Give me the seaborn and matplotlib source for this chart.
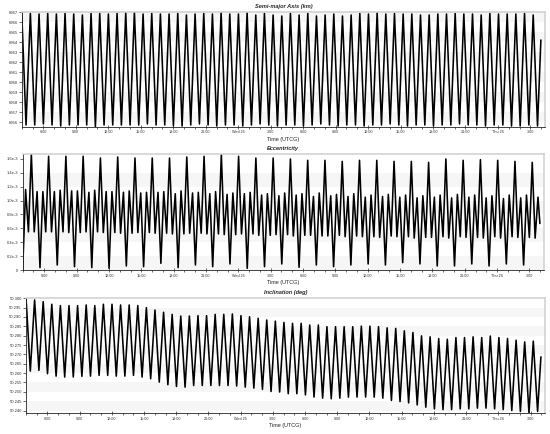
# -*- coding: utf-8 -*-
"""
Orbit elements over two days: semi-major axis, eccentricity, inclination
"""
import numpy as np
import pandas as pd
import matplotlib
matplotlib.use("Agg")
import matplotlib.pyplot as plt
import matplotlib.dates as mdates
from matplotlib.ticker import MultipleLocator, FuncFormatter
import seaborn as sns

# ===================== data =====================
start_time = pd.Timestamp("2020-03-24 04:00")
half_step_min = 24.03      # spacing of semi-major axis / inclination extrema
ecc_step_min = 16.02       # spacing of eccentricity extrema
end_hours = 47.97

# semi-major axis, km: alternating peaks / troughs, starting with a peak
sma_peaks = [6967.07, 6966.90, 6966.84, 6966.90, 6966.84, 6966.90, 6966.84, 6966.74, 6966.90, 6966.90,
             6966.84, 6966.90, 6966.97, 6967.07, 6966.84, 6966.90, 6966.84, 6966.84, 6966.90, 6966.74,
             6966.84, 6966.90, 6966.84, 6966.97, 6966.84, 6966.84, 6966.97, 6966.74, 6966.90, 6966.74,
             6966.64, 6966.90, 6966.74, 6966.90, 6966.64, 6966.74, 6966.84, 6966.64, 6966.74, 6966.90,
             6966.84, 6966.97, 6966.84, 6966.90, 6966.84, 6966.84, 6966.74, 6966.74, 6966.84, 6966.84,
             6966.90, 6966.84, 6966.84, 6966.74, 6966.90, 6966.84, 6966.84, 6966.84, 6966.90, 6966.74]
sma_troughs = [6955.74, 6955.74, 6955.84, 6955.74, 6955.64, 6955.74, 6955.74, 6955.74, 6955.57, 6955.74,
               6955.74, 6955.74, 6955.74, 6955.74, 6955.84, 6955.74, 6955.74, 6955.64, 6955.64, 6955.74,
               6955.84, 6955.74, 6955.64, 6955.74, 6955.74, 6955.64, 6955.74, 6955.84, 6955.74, 6955.64,
               6955.74, 6955.74, 6955.64, 6955.74, 6955.84, 6955.74, 6955.64, 6955.74, 6955.74, 6955.64,
               6955.74, 6955.74, 6955.84, 6955.74, 6955.64, 6955.74, 6955.74, 6955.64, 6955.74, 6955.74,
               6955.84, 6955.74, 6955.74, 6955.64, 6955.74, 6955.74, 6955.64, 6955.64, 6955.74, 6955.64]
sma_end = 6964.24

# eccentricity (x1e-3), six extrema per orbit: deep, mid, low, big, low, mid
ecc_deep = [0.000, 0.034, 0.072, 0.048, 0.034, 0.024, 0.058, 0.048, 0.096, 0.034,
            0.072, 0.048, 0.087, 0.024, 0.048, 0.087, 0.039, 0.072, 0.048, 0.072,
            0.087, 0.072, 0.106, 0.087, 0.058, 0.058, 0.087, 0.058, 0.087, 0.072]
ecc_mid_up = [1.16, 1.13, 1.15, 1.14, 1.15, 1.13, 1.14, 1.12, 1.13, 1.14,
              1.12, 1.13, 1.11, 1.12, 1.10, 1.11, 1.10, 1.11, 1.09, 1.10,
              1.08, 1.09, 1.08, 1.07, 1.08, 1.09, 1.08, 1.07, 1.08, 1.08]
ecc_low_up = [0.55, 0.55, 0.55, 0.54, 0.55, 0.54, 0.53, 0.54, 0.53, 0.52,
              0.53, 0.52, 0.51, 0.52, 0.50, 0.51, 0.50, 0.49, 0.50, 0.49,
              0.48, 0.49, 0.48, 0.47, 0.48, 0.48, 0.47, 0.48, 0.48, 0.47]
ecc_big = [1.672, 1.639, 1.639, 1.639, 1.614, 1.629, 1.614, 1.614, 1.614, 1.629,
           1.639, 1.663, 1.639, 1.614, 1.614, 1.600, 1.581, 1.581, 1.566, 1.581,
           1.581, 1.566, 1.566, 1.552, 1.600, 1.581, 1.590, 1.581, 1.566, 1.552]
ecc_low_down = [0.55, 0.55, 0.54, 0.55, 0.54, 0.53, 0.54, 0.53, 0.52, 0.53,
                0.52, 0.51, 0.52, 0.50, 0.51, 0.49, 0.50, 0.49, 0.48, 0.48,
                0.47, 0.48, 0.46, 0.47, 0.46, 0.47, 0.46, 0.46, 0.47, 0.46]
ecc_mid_down = [1.13, 1.13, 1.14, 1.12, 1.13, 1.12, 1.11, 1.12, 1.10, 1.11,
                1.10, 1.09, 1.10, 1.08, 1.07, 1.08, 1.06, 1.07, 1.06, 1.05,
                1.06, 1.05, 1.04, 1.05, 1.04, 1.05, 1.04, 1.03, 1.04, 1.05]
ecc_end = 0.67

# inclination, deg: alternating peaks / troughs, starting with a peak
inc_peaks = [50.3003, 50.2991, 50.2982, 50.2968, 50.2961, 50.2961, 50.2961, 50.2964, 50.2961, 50.2968,
             50.2968, 50.2964, 50.2964, 50.2961, 50.2950, 50.2937, 50.2925, 50.2914, 50.2905, 50.2905,
             50.2907, 50.2907, 50.2914, 50.2914, 50.2916, 50.2907, 50.2901, 50.2893, 50.2884, 50.2878,
             50.2871, 50.2866, 50.2866, 50.2857, 50.2857, 50.2848, 50.2848, 50.2848, 50.2848, 50.2851,
             50.2851, 50.2848, 50.2842, 50.2839, 50.2826, 50.2817, 50.2799, 50.2794, 50.2785, 50.2781,
             50.2790, 50.2790, 50.2794, 50.2790, 50.2798, 50.2790, 50.2785, 50.2776, 50.2767, 50.2771]
inc_troughs = [50.2611, 50.2615, 50.2597, 50.2584, 50.2579, 50.2579, 50.2583, 50.2584, 50.2588, 50.2588,
               50.2584, 50.2584, 50.2588, 50.2579, 50.2570, 50.2552, 50.2538, 50.2529, 50.2525, 50.2534,
               50.2534, 50.2534, 50.2534, 50.2534, 50.2531, 50.2525, 50.2520, 50.2513, 50.2502, 50.2499,
               50.2490, 50.2490, 50.2484, 50.2472, 50.2466, 50.2463, 50.2466, 50.2472, 50.2472, 50.2472,
               50.2472, 50.2466, 50.2454, 50.2448, 50.2441, 50.2430, 50.2418, 50.2409, 50.2405, 50.2405,
               50.2409, 50.2409, 50.2413, 50.2413, 50.2409, 50.2405, 50.2400, 50.2395, 50.2387, 50.2395]
inc_end = 50.2687


def build_series(values, step_min, end_value):
    times = [start_time + pd.Timedelta(minutes=i * step_min) for i in range(len(values))]
    times.append(start_time + pd.Timedelta(hours=end_hours))
    return pd.DataFrame({"time": times, "value": list(values) + [end_value]})


sma_vals = [v for pair in zip(sma_peaks, sma_troughs) for v in pair]
inc_vals = [v for pair in zip(inc_peaks, inc_troughs) for v in pair]
ecc_vals = [v * 1e-3 for grp in zip(ecc_deep, ecc_mid_up, ecc_low_up, ecc_big, ecc_low_down, ecc_mid_down)
            for v in grp]

df_sma = build_series(sma_vals, half_step_min, sma_end)
df_ecc = build_series(ecc_vals, ecc_step_min, ecc_end * 1e-3)
df_inc = build_series(inc_vals, half_step_min, inc_end)

# ===================== figure =====================
sns.set_theme(style="white")
plt.rcParams["font.family"] = ["Liberation Sans", "DejaVu Sans"]

W, H = 550, 434
fig = plt.figure(figsize=(W / 100, H / 100), dpi=100)


def px_axes(left, top, right, bottom):
    return fig.add_axes([left / W, 1 - bottom / H, (right - left) / W, (bottom - top) / H])


def time_fmt(x, pos):
    d = mdates.num2date(x)
    if d.hour == 0:
        return d.strftime("%a %d")
    return f"{d.hour}:00"


def dress(ax, df, title, ystep, yfmt):
    ymin, ymax = df["value"].min(), df["value"].max()
    ax.set_ylim(ymin, ymax)
    ax.set_xlim(start_time, start_time + pd.Timedelta(hours=48.35))
    # alternating grey bands between y ticks
    ticks = np.arange(np.ceil(ymin / ystep - 1e-6) * ystep, ymax + ystep * 0.01, ystep)
    for i in range(0, len(ticks) - 1, 2):
        ax.axhspan(ticks[i], ticks[i + 1], color="#f6f6f6", zorder=0, lw=0)
    ax.yaxis.set_major_locator(MultipleLocator(ystep))
    ax.yaxis.set_major_formatter(FuncFormatter(yfmt))
    ax.xaxis.set_major_locator(mdates.HourLocator(byhour=range(0, 24, 3)))
    ax.xaxis.set_minor_locator(mdates.HourLocator())
    ax.xaxis.set_major_formatter(FuncFormatter(time_fmt))
    ax.set_title(title, fontsize=4.1, fontweight="bold", fontstyle="italic", pad=3)
    ax.set_xlabel("Time (UTCG)", fontsize=4, labelpad=1.5)
    ax.set_ylabel("")
    for side in ["left", "bottom"]:
        ax.spines[side].set_color("#222222")
        ax.spines[side].set_linewidth(0.6)
    for side in ["top", "right"]:
        ax.spines[side].set_color("#cfcfcf")
        ax.spines[side].set_linewidth(1.1)
    ax.tick_params(axis="y", which="major", direction="out", length=2, width=0.5,
                   labelsize=3, pad=1, left=True, colors="#333333")
    ax.tick_params(axis="x", which="major", direction="inout", length=3, width=0.5,
                   labelsize=2.7, pad=1.2, bottom=True, colors="#333333")
    ax.tick_params(axis="x", which="minor", direction="out", length=1.6, width=0.5,
                   bottom=True, color="#333333")


panels = [
    (df_sma, "Semi-major Axis (km)", (21.7, 11.7, 545, 126.7), 1, lambda v, p: f"{v:.0f}"),
    (df_ecc, "Eccentricity", (22.7, 154, 544, 270), 0.2e-3,
     lambda v, p: "0" if abs(v) < 1e-9 else f"{v * 1e3:.1f}e-3"),
    (df_inc, "Inclination (deg)", (26, 297.7, 545, 413), 0.005, lambda v, p: f"{v:.3f}"),
]

for df, title, box, ystep, yfmt in panels:
    ax = px_axes(*box)
    sns.lineplot(data=df, x="time", y="value", ax=ax, color="black", linewidth=1.15,
                 estimator=None, sort=False)
    dress(ax, df, title, ystep, yfmt)

plt.savefig("out.png", dpi=100)
print("saved out.png")
